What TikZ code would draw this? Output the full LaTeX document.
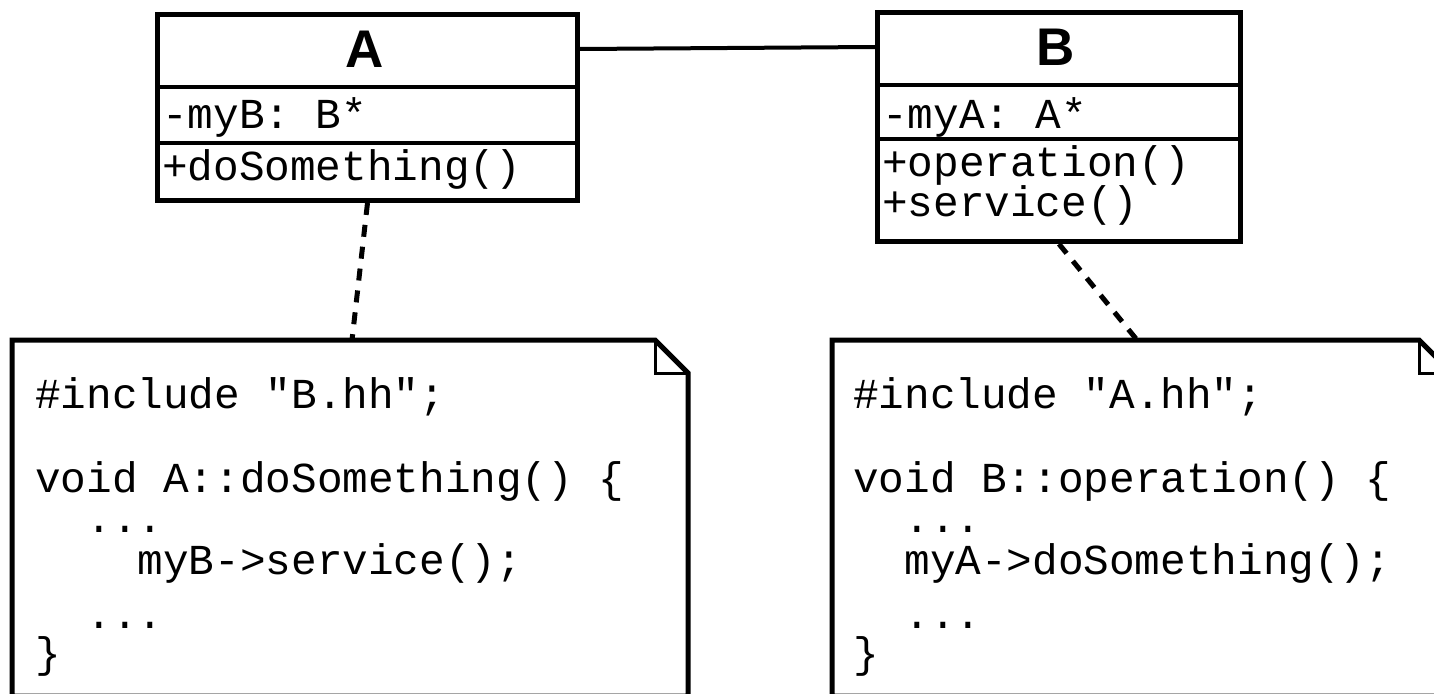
\documentclass[tikz,border=0pt]{standalone}
\usepackage{fontspec}
\setmainfont{Liberation Sans}
\setmonofont{Liberation Mono}
\begin{document}
\begin{tikzpicture}[x=1pt,y=-1pt]
\tikzset{
  umlbox/.style={draw, line width=5pt, fill=white, inner sep=0pt, anchor=north west},
  divider/.style={line width=4.5pt},
  assoc/.style={line width=4pt},
  notelink/.style={line width=5pt, dash pattern=on 12pt off 10pt},
  notebody/.style={line width=5pt, line join=miter, fill=white},
  foldline/.style={line width=3pt},
  title/.style={font=\fontsize{53}{60}\selectfont\bfseries, anchor=base, inner sep=0pt},
  code/.style={font=\fontsize{42.7}{50}\selectfont\ttfamily, anchor=base west, inner sep=0pt},
}
\useasboundingbox (0,0) rectangle (1434,693);
\fill[white] (0,0) rectangle (1434,693);
\clip (0,0) rectangle (1434,693);

% class A
\node[umlbox, minimum width=420pt, minimum height=186pt] (A) at (155,12) {};
\draw[divider] (A.west |- 0,87) -- (A.east |- 0,87);
\draw[divider] (A.west |- 0,143) -- (A.east |- 0,143);
\node[title] (Atitle) at (365,67) {A};
\node[code] (Afield) at (162,128) {-myB: B*};
\node[code] (Aop) at (162,180) {+doSomething()};

% class B
\node[umlbox, minimum width=363pt, minimum height=229pt] (B) at (875,10) {};
\draw[divider] (B.west |- 0,85) -- (B.east |- 0,85);
\draw[divider] (B.west |- 0,139) -- (B.east |- 0,139);
\node[title] (Btitle) at (1056,66) {B};
\node[code] (Bfield) at (882,128) {-myA: A*};
\node[code] (Bop1) at (882,176) {+operation()};
\node[code] (Bop2) at (882,216) {+service()};

% association
\draw[assoc] (A.east |- 0,49) -- (B.west |- 0,47);

% note for A
\draw[notebody] (12,696) -- (12,340) -- (655,340) -- (688,373) -- (688,696) -- cycle;
\draw[foldline] (655,340) -- (655,373) -- (688,373);
\coordinate (nA) at (352,340);
\node[code] (a1) at (35,408) {\#include "B.hh";};
\node[code] (a2) at (35,492) {void A::doSomething() \{};
\node[code] (a3) at (86.2,532) {...};
\node[code] (a4) at (137.5,574) {myB->service();};
\node[code] (a5) at (86.2,628) {...};
\node[code] (a6) at (35,667) {\}};

% note for B
\draw[notebody] (832,696) -- (832,340) -- (1419,340) -- (1452,373) -- (1452,696) -- cycle;
\draw[foldline] (1419,340) -- (1419,373) -- (1452,373);
\coordinate (nB) at (1137,340);
\node[code] (b1) at (853,408) {\#include "A.hh";};
\node[code] (b2) at (853,492) {void B::operation() \{};
\node[code] (b3) at (904.2,532) {...};
\node[code] (b4) at (904.2,574) {myA->doSomething();};
\node[code] (b5) at (904.2,628) {...};
\node[code] (b6) at (853,667) {\}};

% note links
\draw[notelink] (A.south) -- (nA);
\draw[notelink] (B.south) -- (nB);
\end{tikzpicture}
\end{document}
